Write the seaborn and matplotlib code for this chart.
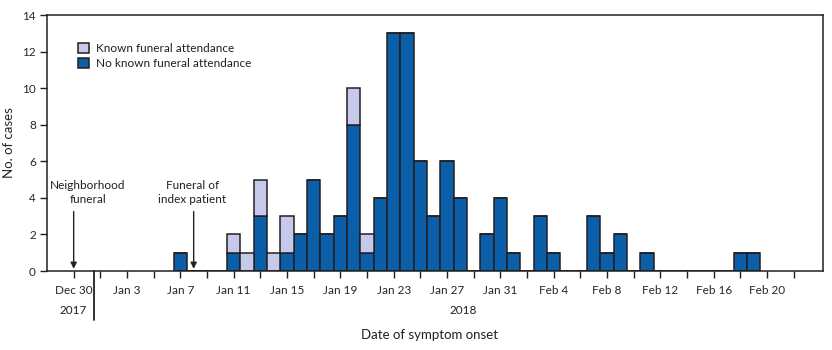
import numpy as np
import pandas as pd
import seaborn as sns
import matplotlib.pyplot as plt
from matplotlib.patches import Patch

# ---- data ----
onset_dates = ["2018-01-07", "2018-01-11", "2018-01-12", "2018-01-13", "2018-01-14",
               "2018-01-15", "2018-01-16", "2018-01-17", "2018-01-18", "2018-01-19",
               "2018-01-20", "2018-01-21", "2018-01-22", "2018-01-23", "2018-01-24",
               "2018-01-25", "2018-01-26", "2018-01-27", "2018-01-28", "2018-01-30",
               "2018-01-31", "2018-02-01", "2018-02-03", "2018-02-04", "2018-02-07",
               "2018-02-08", "2018-02-09", "2018-02-11", "2018-02-18", "2018-02-19"]
no_known = [1, 1, 0, 3, 0, 1, 2, 5, 2, 3, 8, 1, 4, 13, 13, 6, 3, 6, 4, 2,
            4, 1, 3, 1, 3, 1, 2, 1, 1, 1]
known = [0, 1, 1, 2, 1, 2, 0, 0, 0, 0, 2, 1, 0, 0, 0, 0, 0, 0, 0, 0,
         0, 0, 0, 0, 0, 0, 0, 0, 0, 0]
groups = ["Known funeral attendance", "No known funeral attendance"]
tick_dates = ["2017-12-30", "2018-01-03", "2018-01-07", "2018-01-11", "2018-01-15",
              "2018-01-19", "2018-01-23", "2018-01-27", "2018-01-31", "2018-02-04",
              "2018-02-08", "2018-02-12", "2018-02-16", "2018-02-20"]
tick_labels = ["Dec 30", "Jan 3", "Jan 7", "Jan 11", "Jan 15", "Jan 19", "Jan 23",
               "Jan 27", "Jan 31", "Feb 4", "Feb 8", "Feb 12", "Feb 16", "Feb 20"]
year_labels = ["2017", "2018"]
events = ["Neighborhood\nfuneral", "Funeral of\nindex patient"]
event_dates = ["2017-12-30", "2018-01-08"]

origin = pd.Timestamp("2017-12-30")
def day(s):
    return (pd.Timestamp(s) - origin).days

days = [day(d) for d in onset_dates]
rows = []
for d, n, k in zip(days, no_known, known):
    if n > 0:
        rows.append((d, groups[1], n))
    if k > 0:
        rows.append((d, groups[0], k))
df = pd.DataFrame(rows, columns=["day", "group", "count"])

dark = "#0b5ea8"
light = "#c6c9ea"
edge = "#231f20"
palette = {groups[0]: light, groups[1]: dark}

sns.set_theme(style="white")
plt.rcParams["font.family"] = ["Lato", "DejaVu Sans"]
plt.rcParams["text.color"] = edge

fig = plt.figure(figsize=(8.32, 3.5), dpi=100)
ax = fig.add_axes([0.0565, 0.2257, 0.9327, 0.7314])

sns.histplot(data=df, x="day", weights="count", hue="group",
             hue_order=[groups[0], groups[1]], multiple="stack", discrete=True,
             palette=palette, alpha=1, edgecolor=edge, linewidth=1.1,
             shrink=1, legend=False, ax=ax)

ax.set_xlim(-2, 56.2)
ax.set_ylim(0, 14)
ax.set_yticks(np.arange(0, 15, 2))
ax.tick_params(axis="y", labelsize=8.5, length=5, width=1, color=edge, pad=3)

major = np.arange(0, 55, 2)
label_map = {day(d): l for d, l in zip(tick_dates, tick_labels)}
ax.set_xticks(major)
ax.set_xticklabels([label_map.get(int(m), "") for m in major])
ax.tick_params(axis="x", labelsize=8.5, length=5, width=1, color=edge, pad=5)
ax.tick_params(bottom=True, left=True)

for s in ax.spines.values():
    s.set_visible(True)
    s.set_color(edge)
    s.set_linewidth(1.1)

ax.set_xlabel("")
ax.set_ylabel("No. of cases", fontsize=9.5, labelpad=5)

# year divider and labels
trans = ax.get_xaxis_transform()
ax.plot([1.5, 1.5], [0, -0.19], transform=trans, color=edge, lw=1.3, clip_on=False)
ax.text(0, -0.153, year_labels[0], transform=trans, ha="center", va="center", fontsize=8.5)
ax.text(29.2, -0.153, year_labels[1], transform=trans, ha="center", va="center", fontsize=8.5)
fig.text(430 / 832, 1 - 335 / 350, "Date of symptom onset", ha="center", va="center", fontsize=9.5)

# event annotations
text_x = [1.05, 8.9]
for lbl, d, tx in zip(events, event_dates, text_x):
    x = day(d)
    ax.annotate("", xy=(x, 0.12), xytext=(x, 3.25),
                arrowprops=dict(arrowstyle="-|>", color=edge, lw=1,
                                mutation_scale=9, shrinkA=0, shrinkB=0))
    ax.text(tx, 4.3, lbl, ha="center", va="center", fontsize=8.5, linespacing=1.25)

handles = [Patch(facecolor=palette[g], edgecolor=edge, linewidth=1.1) for g in groups]
ax.legend(handles, groups, loc="upper left", bbox_to_anchor=(0.04, 0.89),
          frameon=False, fontsize=8.5, handlelength=0.9, handleheight=0.9,
          labelspacing=0.3, handletextpad=0.65, borderpad=0, borderaxespad=0)

fig.savefig("out.png", dpi=100)
